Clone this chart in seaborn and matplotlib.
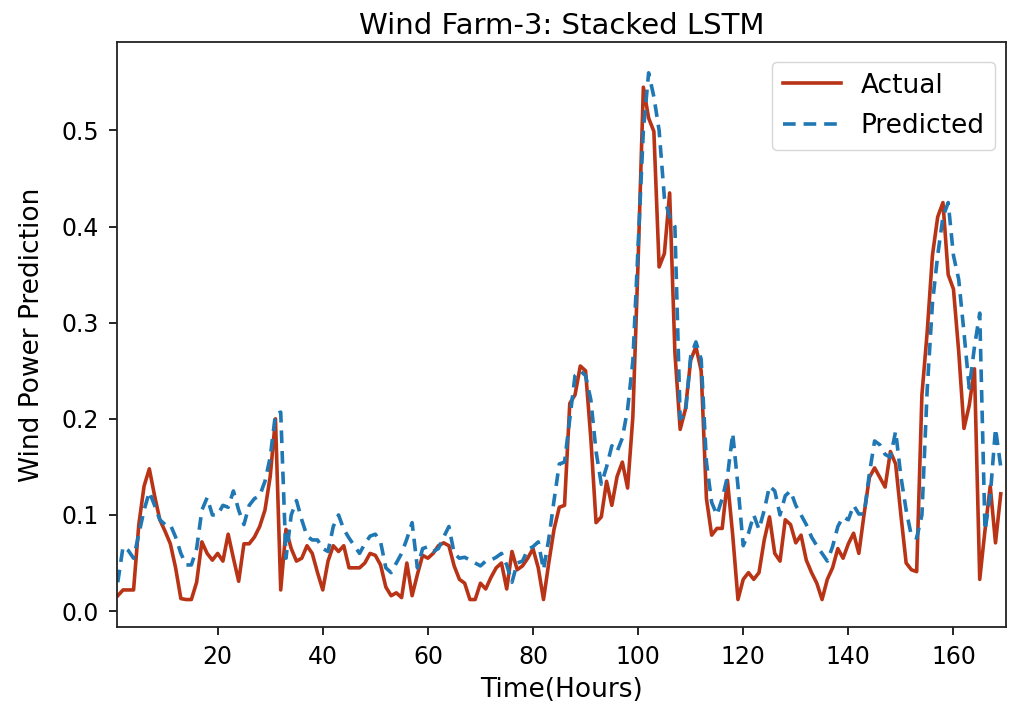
import matplotlib
matplotlib.use("Agg")
import matplotlib.pyplot as plt
import seaborn as sns
import pandas as pd
import numpy as np

hours = list(range(1, 170))

actual = [
    0.016, 0.022, 0.022, 0.022, 0.090, 0.130, 0.148, 0.120, 0.095, 0.083,
    0.070, 0.045, 0.013, 0.012, 0.012, 0.030, 0.072, 0.060, 0.053, 0.060,
    0.052, 0.080, 0.055, 0.031, 0.070, 0.070, 0.077, 0.088, 0.105, 0.140,
    0.200, 0.022, 0.085, 0.065, 0.052, 0.055, 0.068, 0.060, 0.040, 0.022,
    0.052, 0.068, 0.062, 0.068, 0.045, 0.045, 0.045, 0.050, 0.060, 0.058,
    0.048, 0.025, 0.016, 0.019, 0.014, 0.050, 0.016, 0.038, 0.058, 0.055,
    0.060, 0.068, 0.071, 0.068, 0.047, 0.033, 0.029, 0.012, 0.012, 0.029,
    0.023, 0.035, 0.045, 0.050, 0.023, 0.062, 0.043, 0.047, 0.055, 0.065,
    0.045, 0.012, 0.050, 0.085, 0.108, 0.110, 0.216, 0.225, 0.255, 0.250,
    0.180, 0.092, 0.098, 0.135, 0.110, 0.140, 0.155, 0.128, 0.202, 0.364,
    0.545, 0.513, 0.499, 0.358, 0.372, 0.435, 0.269, 0.189, 0.210, 0.261,
    0.275, 0.250, 0.117, 0.079, 0.086, 0.086, 0.136, 0.079, 0.012, 0.033,
    0.040, 0.033, 0.040, 0.074, 0.098, 0.060, 0.052, 0.095, 0.090, 0.071,
    0.079, 0.053, 0.040, 0.029, 0.012, 0.033, 0.045, 0.065, 0.055, 0.070,
    0.081, 0.060, 0.101, 0.139, 0.149, 0.139, 0.129, 0.166, 0.153, 0.100,
    0.050, 0.043, 0.041, 0.225, 0.290, 0.370, 0.410, 0.425, 0.350, 0.335,
    0.270, 0.190, 0.214, 0.252, 0.033, 0.084, 0.130, 0.071, 0.122,
]

predicted = [
    0.030, 0.067, 0.063, 0.055, 0.080, 0.105, 0.124, 0.110, 0.095, 0.090,
    0.090, 0.077, 0.060, 0.048, 0.048, 0.065, 0.105, 0.118, 0.100, 0.100,
    0.110, 0.108, 0.125, 0.105, 0.090, 0.110, 0.117, 0.120, 0.135, 0.160,
    0.205, 0.207, 0.055, 0.100, 0.115, 0.095, 0.078, 0.074, 0.074, 0.065,
    0.062, 0.088, 0.100, 0.085, 0.076, 0.068, 0.060, 0.070, 0.078, 0.080,
    0.072, 0.045, 0.040, 0.050, 0.060, 0.075, 0.092, 0.045, 0.065, 0.067,
    0.062, 0.065, 0.077, 0.088, 0.060, 0.055, 0.056, 0.053, 0.050, 0.047,
    0.052, 0.053, 0.056, 0.060, 0.048, 0.030, 0.050, 0.052, 0.064, 0.067,
    0.072, 0.043, 0.075, 0.115, 0.153, 0.155, 0.200, 0.245, 0.250, 0.245,
    0.220, 0.166, 0.132, 0.150, 0.172, 0.166, 0.180, 0.210, 0.260, 0.380,
    0.500, 0.560, 0.535, 0.500, 0.430, 0.410, 0.400, 0.200, 0.205, 0.265,
    0.280, 0.262, 0.155, 0.113, 0.100, 0.117, 0.140, 0.185, 0.130, 0.068,
    0.081, 0.100, 0.085, 0.105, 0.130, 0.125, 0.100, 0.120, 0.125, 0.110,
    0.100, 0.090, 0.077, 0.068, 0.060, 0.052, 0.067, 0.088, 0.098, 0.095,
    0.110, 0.101, 0.101, 0.143, 0.177, 0.173, 0.163, 0.160, 0.187, 0.140,
    0.105, 0.078, 0.076, 0.100, 0.230, 0.320, 0.370, 0.410, 0.425, 0.370,
    0.345, 0.290, 0.232, 0.275, 0.310, 0.084, 0.120, 0.190, 0.150,
]

series_names = ["Actual", "Predicted"]
title = "Wind Farm-3: Stacked LSTM"
xlabel = "Time(Hours)"
ylabel = "Wind Power Prediction"
xticks = [20, 40, 60, 80, 100, 120, 140, 160]
yticks = [0.0, 0.1, 0.2, 0.3, 0.4, 0.5]

df = pd.DataFrame({
    "hour": hours * 2,
    "value": actual + predicted,
    "series": [series_names[0]] * len(actual) + [series_names[1]] * len(predicted),
})

plt.rcParams["font.family"] = ["DejaVu Sans"]

fig = plt.figure(figsize=(10.13, 7.14), dpi=100)
ax = fig.add_axes([0.1155, 0.1218, 0.8776, 0.8193])

palette = {"Actual": "#B93416", "Predicted": "#1F77B4"}
dashes = {"Actual": "", "Predicted": (3.5, 2.2)}
sns.lineplot(data=df, x="hour", y="value", hue="series", style="series",
             palette=palette, dashes=dashes, linewidth=2.6, ax=ax)

ax.set_xlim(0.85, 170.0)
ax.set_ylim(-0.0166, 0.592)
ax.set_xticks(xticks)
ax.set_yticks(yticks)
ax.set_title(title, fontsize=21, pad=6)
ax.set_xlabel(xlabel, fontsize=19, labelpad=6)
ax.set_ylabel(ylabel, fontsize=19, labelpad=12)
ax.tick_params(axis="both", labelsize=17, length=6, width=1.2, pad=7)
for s in ax.spines.values():
    s.set_linewidth(1.3)
    s.set_color("#222222")

leg = ax.legend(loc="upper right", bbox_to_anchor=(0.9876, 0.9658),
                borderaxespad=0.0, fontsize=19, handlelength=2.2,
                handletextpad=0.75, labelspacing=0.55, frameon=True,
                borderpad=0.4)
leg.set_title(None)

fig.savefig("out.png", dpi=100)
